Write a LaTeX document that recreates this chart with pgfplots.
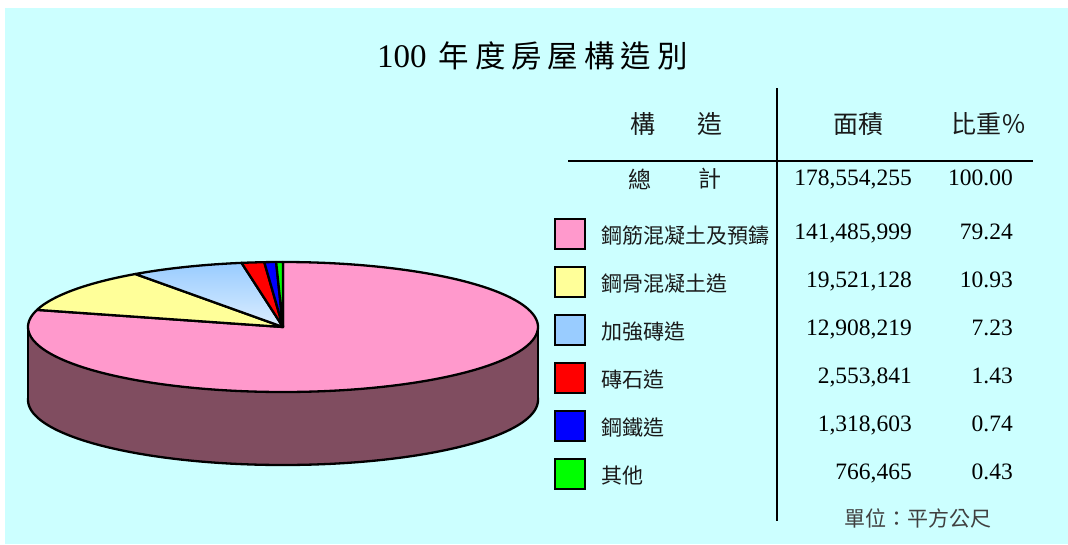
\documentclass[border=0pt]{standalone}
\usepackage{pgfplots}
\pgfplotsset{compat=1.18}
\usepackage{pgfplotstable}
\usepackage{fontspec}
\setmainfont{Liberation Serif}
\newfontfamily\cjk{Noto Sans CJK TC}
\definecolor{bg}{HTML}{CCFFFF}
\definecolor{sA}{HTML}{FF99CC}
\definecolor{sB}{HTML}{FFFF99}
\definecolor{sC}{HTML}{99CCFF}
\definecolor{sD}{HTML}{FF0000}
\definecolor{sE}{HTML}{0000FF}
\definecolor{sF}{HTML}{00FF00}
\definecolor{side}{RGB}{128,77,96}
\definecolor{txt}{HTML}{1A1A1A}

\pgfplotstableread{
area pct
141485999 79.24
19521128 10.93
12908219 7.23
2553841 1.43
1318603 0.74
766465 0.43
}\piedata

\pgfplotstablegetelem{0}{pct}\of\piedata\pgfmathsetmacro\eA{90-3.6*\pgfplotsretval}%
\pgfplotstablegetelem{1}{pct}\of\piedata\pgfmathsetmacro\eB{\eA-3.6*\pgfplotsretval}%
\pgfplotstablegetelem{2}{pct}\of\piedata\pgfmathsetmacro\eC{\eB-3.6*\pgfplotsretval}%
\pgfplotstablegetelem{3}{pct}\of\piedata\pgfmathsetmacro\eD{\eC-3.6*\pgfplotsretval}%
\pgfplotstablegetelem{4}{pct}\of\piedata\pgfmathsetmacro\eE{\eD-3.6*\pgfplotsretval}%
\pgfplotstablegetelem{5}{pct}\of\piedata\pgfmathsetmacro\eF{\eE-3.6*\pgfplotsretval}%

\newcommand\T[1]{\makebox[36.4pt]{#1}}

\pgfplotsset{slice/.style={draw=black, line width=2.3pt, line join=round, samples=200, variable=\t}}

\begin{document}%
\begin{tikzpicture}
\begin{axis}[scale only axis, width=1068pt, height=544pt,
  xmin=0, xmax=1068, ymin=0, ymax=544, y dir=reverse,
  hide axis, clip=false]
% background
\fill[white] (axis cs:0,0) rectangle (axis cs:1068,544);
\fill[bg] (axis cs:5,8) rectangle (axis cs:1068,544);
% side of the pie
\addplot[slice, fill=side, domain=0:360] ({283+255*cos(\t)},{400-65*sin(\t)}) -- cycle;
\addplot[fill=side, draw=none] coordinates {(28,327) (538,327) (538,400) (28,400)} -- cycle;
\addplot[draw=black, line width=2.3pt] coordinates {(28,327) (28,400)};
\addplot[draw=black, line width=2.3pt] coordinates {(538,327) (538,400)};
% top slices
\addplot[slice, fill=sA, domain=\eA:90] ({283+255*cos(\t)},{327-65*sin(\t)}) -- (axis cs:283,327) -- cycle;
\addplot[slice, fill=sB, domain=\eB:\eA] ({283+255*cos(\t)},{327-65*sin(\t)}) -- (axis cs:283,327) -- cycle;
\addplot[slice, top color=sC, bottom color=sC!35!white, domain=\eC:\eB] ({283+255*cos(\t)},{327-65*sin(\t)}) -- (axis cs:283,327) -- cycle;
\addplot[slice, fill=sD, domain=\eD:\eC] ({283+255*cos(\t)},{327-65*sin(\t)}) -- (axis cs:283,327) -- cycle;
\addplot[slice, fill=sE, domain=\eE:\eD] ({283+255*cos(\t)},{327-65*sin(\t)}) -- (axis cs:283,327) -- cycle;
\addplot[slice, fill=sF, domain=\eF:\eE] ({283+255*cos(\t)},{327-65*sin(\t)}) -- (axis cs:283,327) -- cycle;
% title
\node[anchor=west, inner sep=0pt] at (axis cs:377,56) {\fontsize{33}{33}\selectfont 100\hspace{9pt}{\cjk\fontsize{30.5}{30.5}\selectfont\T{年}\T{度}\T{房}\T{屋}\T{構}\T{造}\T{別}}};
% table lines
\draw[black, line width=2pt] (axis cs:777,88) -- (axis cs:777,521);
\draw[black, line width=2pt] (axis cs:568,161) -- (axis cs:1033,161);
% header
\begin{scope}[every node/.style={inner sep=0pt, text=txt, font=\cjk\fontsize{25}{25}\selectfont}]
\node at (axis cs:643,124) {構};
\node at (axis cs:710,124) {造};
\node at (axis cs:858,124) {面積};
\node at (axis cs:989,124) {比重％};
\end{scope}
\begin{scope}[every node/.style={inner sep=0pt, text=txt, font=\cjk\fontsize{23}{23}\selectfont}]
\node at (axis cs:640,179) {總};
\node at (axis cs:710,179) {計};
\end{scope}
% legend squares
\filldraw[fill=sA, draw=black, line width=1.6pt] (axis cs:555,219) rectangle (axis cs:585,249);
\filldraw[fill=sB, draw=black, line width=1.6pt] (axis cs:555,267) rectangle (axis cs:585,297);
\filldraw[fill=sC, draw=black, line width=1.6pt] (axis cs:555,315) rectangle (axis cs:585,345);
\filldraw[fill=sD, draw=black, line width=1.6pt] (axis cs:555,363) rectangle (axis cs:585,393);
\filldraw[fill=sE, draw=black, line width=1.6pt] (axis cs:555,411) rectangle (axis cs:585,441);
\filldraw[fill=sF, draw=black, line width=1.6pt] (axis cs:555,459) rectangle (axis cs:585,489);
% labels
\begin{scope}[every node/.style={anchor=west, inner sep=0pt, text=txt, font=\cjk\fontsize{21}{21}\selectfont}]
\node at (axis cs:601,236) {鋼筋混凝土及預鑄};
\node at (axis cs:601,284) {鋼骨混凝土造};
\node at (axis cs:601,332) {加強磚造};
\node at (axis cs:601,380) {磚石造};
\node at (axis cs:601,428) {鋼鐵造};
\node at (axis cs:601,476) {其他};
\end{scope}
% numbers
\begin{scope}[every node/.style={anchor=base east, inner sep=0pt, font=\fontsize{23.5}{23.5}\selectfont}]
\node at (axis cs:912,185) {178,554,255};
\node at (axis cs:1013,185) {100.00};
\node at (axis cs:912,239) {141,485,999};
\node at (axis cs:1013,239) {79.24};
\node at (axis cs:912,287) {19,521,128};
\node at (axis cs:1013,287) {10.93};
\node at (axis cs:912,335) {12,908,219};
\node at (axis cs:1013,335) {7.23};
\node at (axis cs:912,383) {2,553,841};
\node at (axis cs:1013,383) {1.43};
\node at (axis cs:912,431) {1,318,603};
\node at (axis cs:1013,431) {0.74};
\node at (axis cs:912,479) {766,465};
\node at (axis cs:1013,479) {0.43};
\end{scope}
\node[inner sep=0pt, text=black!75, font=\cjk\fontsize{21}{21}\selectfont] at (axis cs:918,518) {單位：平方公尺};
\end{axis}
\end{tikzpicture}%
\end{document}
